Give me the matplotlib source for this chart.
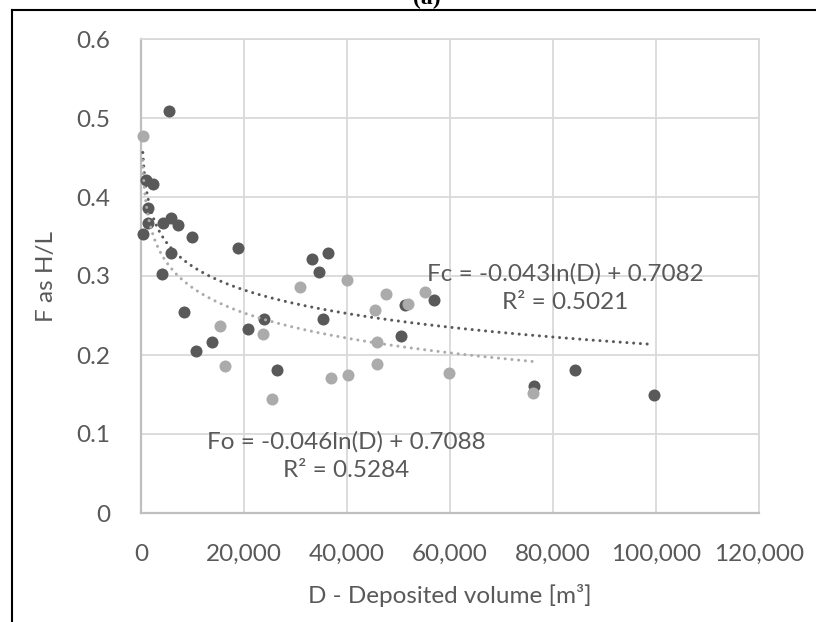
import numpy as np
import matplotlib
matplotlib.use('Agg')
import matplotlib.pyplot as plt
from matplotlib.ticker import FuncFormatter
from matplotlib.lines import Line2D

# Fc series (dark)
fc_x = [350, 970, 2400, 1400, 1400, 4330, 5770, 7130, 5500, 9960, 18900, 5770,
        4080, 8400, 23900, 20700, 35300, 13850, 10700, 26500, 33200, 36250,
        34560, 51300, 56950, 50500, 76400, 84300, 99550]
fc_y = [0.353, 0.422, 0.416, 0.386, 0.367, 0.367, 0.374, 0.365, 0.509, 0.349,
        0.336, 0.329, 0.302, 0.255, 0.246, 0.233, 0.246, 0.217, 0.205, 0.181,
        0.322, 0.329, 0.305, 0.263, 0.269, 0.224, 0.161, 0.181, 0.149]

# Fo series (light)
fo_x = [300, 15400, 23700, 16400, 25400, 36900, 40200, 30870, 39940, 47500,
        45370, 51840, 55200, 45900, 45900, 59800, 76200]
fo_y = [0.477, 0.237, 0.227, 0.186, 0.144, 0.171, 0.175, 0.286, 0.295, 0.277,
        0.257, 0.264, 0.280, 0.216, 0.189, 0.177, 0.152]

# log trendline coefficients (y = a ln(D) + b)
fc_fit = (-0.043, 0.7082)
fo_fit = (-0.046, 0.7088)
fc_label = 'Fc = -0.043ln(D) + 0.7082\nR² = 0.5021'
fo_label = 'Fo = -0.046ln(D) + 0.7088\nR² = 0.5284'

dark = '#595959'
light = '#ababab'
txt = '#595959'

plt.rcParams['font.family'] = ['Lato', 'DejaVu Sans']

fig = plt.figure(figsize=(8.16, 6.22), dpi=100)
ax = fig.add_axes([141 / 816, 1 - 513 / 622, (759 - 141) / 816, (513 - 39) / 622])

ax.scatter(fc_x, fc_y, s=75, color=dark, zorder=3, clip_on=False, linewidths=0)
ax.scatter(fo_x, fo_y, s=75, color=light, zorder=3, clip_on=False, linewidths=0)

for xs, (a, b), c in [(fc_x, fc_fit, dark), (fo_x, fo_fit, light)]:
    xx = np.geomspace(min(xs), max(xs), 400)
    ax.plot(xx, a * np.log(xx) + b, color=c, lw=2.2,
            linestyle=(0, (0.01, 2.2)), dash_capstyle='round', zorder=4)

ax.set_xlim(0, 120000)
ax.set_ylim(0, 0.6)
ax.set_xticks(np.arange(0, 120001, 20000))
ax.set_yticks(np.arange(0, 0.61, 0.1))
ax.xaxis.set_major_formatter(FuncFormatter(lambda v, p: f'{int(v):,}'))
ax.yaxis.set_major_formatter(FuncFormatter(lambda v, p: '0' if v == 0 else f'{v:.1f}'))
ax.grid(True, color='#d9d9d9', lw=1.3, zorder=0)
ax.set_axisbelow(True)
ax.tick_params(length=0, labelsize=17.5, colors=txt)
ax.tick_params(axis='x', pad=22)
ax.tick_params(axis='y', pad=22)
for s in ['top', 'right']:
    ax.spines[s].set_color('#d9d9d9')
    ax.spines[s].set_linewidth(1.3)
for s in ['left', 'bottom']:
    ax.spines[s].set_color('#bfbfbf')
    ax.spines[s].set_linewidth(1.6)

ax.set_xlabel('D - Deposited volume [m³]', fontsize=17.5, color=txt, labelpad=14)
ax.set_ylabel('F as H/L', fontsize=17.5, color=txt, labelpad=14)

fig.text(565 / 816, 1 - 288 / 622, fc_label, fontsize=17.5, color=txt,
         ha='center', va='center', linespacing=1.45, multialignment='center')
fig.text(346 / 816, 1 - 456 / 622, fo_label, fontsize=17.5, color=txt,
         ha='center', va='center', linespacing=1.45, multialignment='center')

# frame of the figure panel
fig.add_artist(Line2D([12 / 816, 1], [1 - 10 / 622, 1 - 10 / 622], color='black', lw=1.5))
fig.add_artist(Line2D([12 / 816, 12 / 816], [0, 1 - 10 / 622], color='black', lw=1.5))
fig.text(427 / 816, 1 - 9 / 622, '(a)', fontsize=17, fontweight='bold',
         family='Liberation Serif', ha='center', va='bottom')

fig.savefig('out.png', dpi=100)
